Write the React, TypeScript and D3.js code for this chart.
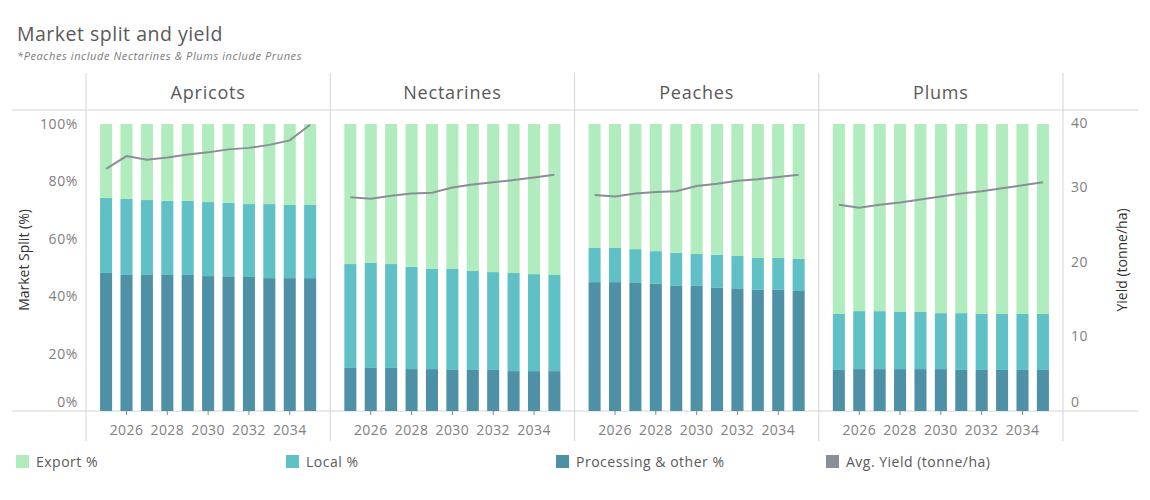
import React from 'react';
import * as d3 from 'd3';

const years = [2025, 2026, 2027, 2028, 2029, 2030, 2031, 2032, 2033, 2034, 2035];
const yearTickLabels = [2026, 2028, 2030, 2032, 2034];
const fruits = ['Apricots', 'Nectarines', 'Peaches', 'Plums'];
const seriesNames = ['Export %', 'Local %', 'Processing & other %', 'Avg. Yield (tonne/ha)'];
const pctTicks = [0, 20, 40, 60, 80, 100];
const yieldTicks = [0, 10, 20, 30, 40];

const apricotsProcessing = [48.1, 47.4, 47.4, 47.4, 47.4, 47.0, 46.7, 46.7, 46.3, 46.3, 46.3];
const apricotsLocal = [26.1, 26.5, 26.1, 25.8, 25.8, 25.8, 25.8, 25.4, 25.8, 25.5, 25.5];
const apricotsExport = [25.8, 26.1, 26.5, 26.8, 26.8, 27.2, 27.5, 27.9, 27.9, 28.2, 28.2];
const apricotsYield = [32.4, 34.1, 33.6, 33.9, 34.3, 34.6, 35.0, 35.2, 35.6, 36.2, 38.3];

const nectarinesProcessing = [15.0, 15.0, 15.0, 14.6, 14.6, 14.3, 14.3, 14.3, 13.9, 13.9, 13.9];
const nectarinesLocal = [36.2, 36.6, 36.2, 35.6, 34.9, 35.2, 34.5, 34.1, 34.2, 33.8, 33.5];
const nectarinesExport = [48.8, 48.4, 48.8, 49.8, 50.5, 50.5, 51.2, 51.6, 51.9, 52.3, 52.6];
const nectarinesYield = [28.6, 28.4, 28.8, 29.1, 29.2, 29.9, 30.3, 30.6, 30.9, 31.25, 31.6];

const peachesProcessing = [44.9, 44.9, 44.6, 44.3, 43.6, 43.6, 42.9, 42.5, 42.2, 42.2, 41.8];
const peachesLocal = [11.9, 11.9, 11.8, 11.4, 11.5, 11.1, 11.5, 11.5, 11.1, 11.1, 11.2];
const peachesExport = [43.2, 43.2, 43.6, 44.3, 44.9, 45.3, 45.6, 46.0, 46.7, 46.7, 47.0];
const peachesYield = [28.9, 28.7, 29.1, 29.3, 29.4, 30.1, 30.4, 30.8, 31.0, 31.3, 31.6];

const plumsProcessing = [14.3, 14.6, 14.6, 14.6, 14.6, 14.6, 14.3, 14.3, 14.3, 14.3, 14.3];
const plumsLocal = [19.5, 20.2, 20.2, 19.9, 19.9, 19.5, 19.8, 19.5, 19.5, 19.5, 19.5];
const plumsExport = [66.2, 65.2, 65.2, 65.5, 65.5, 65.9, 65.9, 66.2, 66.2, 66.2, 66.2];
const plumsYield = [27.6, 27.2, 27.6, 27.9, 28.3, 28.7, 29.1, 29.4, 29.8, 30.2, 30.6];

const processingByFruit = [apricotsProcessing, nectarinesProcessing, peachesProcessing, plumsProcessing];
const localByFruit = [apricotsLocal, nectarinesLocal, peachesLocal, plumsLocal];
const exportByFruit = [apricotsExport, nectarinesExport, peachesExport, plumsExport];
const yieldByFruit = [apricotsYield, nectarinesYield, peachesYield, plumsYield];

const COLORS = {
  export: '#b1ecbe',
  local: '#5fc0c6',
  processing: '#4e90a6',
  yield: '#8a8e97',
  rule: '#d4d4d4',
};
const FONT = '"Open Sans", Lato, "Noto Sans", sans-serif';

const W = 1150;
const H = 500;
const paneLeft = 86;
const paneRight = 1063;
const headerTop = 73;
const paneTop = 110;
const baseline = 411;
const axisBottom = 441;

export default function App() {
  const panelScale = d3.scaleBand<string>().domain(fruits).range([paneLeft, paneRight]).padding(0);
  const yPct = d3.scaleLinear().domain([0, 100]).range([baseline, 124]);
  const yYield = d3.scaleLinear().domain([0, 40]).range([baseline, 112]);

  const stackKeys = ['processing', 'local', 'export'];
  const stackColors: Record<string, string> = {
    processing: COLORS.processing,
    local: COLORS.local,
    export: COLORS.export,
  };

  const panels = fruits.map((fruit, fi) => {
    const x0 = panelScale(fruit) as number;
    const x1 = x0 + panelScale.bandwidth();
    const xb = d3
      .scaleBand<number>()
      .domain(years)
      .range([x0, x1])
      .paddingInner(0.41)
      .paddingOuter(0.69)
      .align(0.5);
    const rows = years.map((yr, i) => ({
      year: yr,
      processing: processingByFruit[fi][i],
      local: localByFruit[fi][i],
      export: exportByFruit[fi][i],
      yld: yieldByFruit[fi][i],
    }));
    const stacked = d3.stack<any>().keys(stackKeys)(rows);
    const line = d3
      .line<any>()
      .x((d) => (xb(d.year) as number) + xb.bandwidth() / 2)
      .y((d) => yYield(d.yld));
    return { fruit, x0, x1, xb, rows, stacked, line };
  });

  const legendItems = [
    { label: seriesNames[0], color: COLORS.export },
    { label: seriesNames[1], color: COLORS.local },
    { label: seriesNames[2], color: COLORS.processing },
    { label: seriesNames[3], color: COLORS.yield },
  ];
  const legendX = d3.scaleLinear().domain([0, 1]).range([16, 286]);

  return (
    <svg
      width={W}
      height={H}
      style={{ position: 'absolute', left: 0, top: 0, background: '#fff' }}
      fontFamily={FONT}
    >
      <text x={17} y={41} fontSize={19.5} letterSpacing={0.5} fill="#595959">
        Market split and yield
      </text>
      <text x={17} y={60} fontSize={11} letterSpacing={0.6} fontStyle="italic" fill="#7a7a7a">
        *Peaches include Nectarines &amp; Plums include Prunes
      </text>

      {/* horizontal rules */}
      <line x1={12} x2={1138} y1={paneTop} y2={paneTop} stroke={COLORS.rule} />
      <line x1={12} x2={1138} y1={baseline} y2={baseline} stroke={COLORS.rule} />

      {/* vertical separators */}
      {[...fruits.map((f) => panelScale(f) as number), paneRight].map((x, i) => (
        <line key={i} x1={x} x2={x} y1={headerTop} y2={axisBottom} stroke={COLORS.rule} />
      ))}

      {panels.map((p) => (
        <g key={p.fruit}>
          <text
            x={(p.x0 + p.x1) / 2}
            y={99}
            fontSize={18}
            letterSpacing={0.8}
            textAnchor="middle"
            fill="#595959"
          >
            {p.fruit}
          </text>
          {p.stacked.map((layer) => (
            <g key={layer.key} fill={stackColors[layer.key]}>
              {layer.map((d, i) => (
                <rect
                  key={i}
                  x={p.xb(d.data.year) as number}
                  width={p.xb.bandwidth()}
                  y={yPct(d[1])}
                  height={yPct(d[0]) - yPct(d[1])}
                />
              ))}
            </g>
          ))}
          <path d={p.line(p.rows) as string} fill="none" stroke={COLORS.yield} strokeWidth={2} />
          {yearTickLabels.map((yr) => {
            const cx = (p.xb(yr) as number) + p.xb.bandwidth() / 2;
            return (
              <g key={yr}>
                <line x1={cx} x2={cx} y1={baseline} y2={baseline + 4} stroke="#888" />
                <text x={cx} y={435} fontSize={14} letterSpacing={0.4} textAnchor="middle" fill="#808080">
                  {yr}
                </text>
              </g>
            );
          })}
        </g>
      ))}

      {/* left axis */}
      {pctTicks.map((t) => (
        <text
          key={t}
          x={78}
          y={Math.min(yPct(t), baseline - 9) + 5}
          fontSize={14}
          letterSpacing={0.6}
          textAnchor="end"
          fill="#808080"
        >
          {t}%
        </text>
      ))}
      <text
        transform={`translate(29,${260}) rotate(-90)`}
        fontSize={14}
        textAnchor="middle"
        fill="#333"
      >
        Market Split (%)
      </text>

      {/* right axis */}
      {yieldTicks.map((t) => (
        <text
          key={t}
          x={1071}
          y={Math.max(Math.min(yYield(t), baseline - 9), paneTop + 12.5) + 5}
          fontSize={14}
          letterSpacing={0.4}
          textAnchor="start"
          fill="#808080"
        >
          {t}
        </text>
      ))}
      <text
        transform={`translate(1127,${260}) rotate(-90)`}
        fontSize={14}
        textAnchor="middle"
        fill="#333"
      >
        Yield (tonne/ha)
      </text>

      {/* legend */}
      {legendItems.map((it, i) => (
        <g key={it.label} transform={`translate(${legendX(i)},0)`}>
          <rect x={0} y={455} width={13} height={13} fill={it.color} />
          <text x={20} y={467} fontSize={14} letterSpacing={0.5} fill="#595959">
            {it.label}
          </text>
        </g>
      ))}
    </svg>
  );
}
